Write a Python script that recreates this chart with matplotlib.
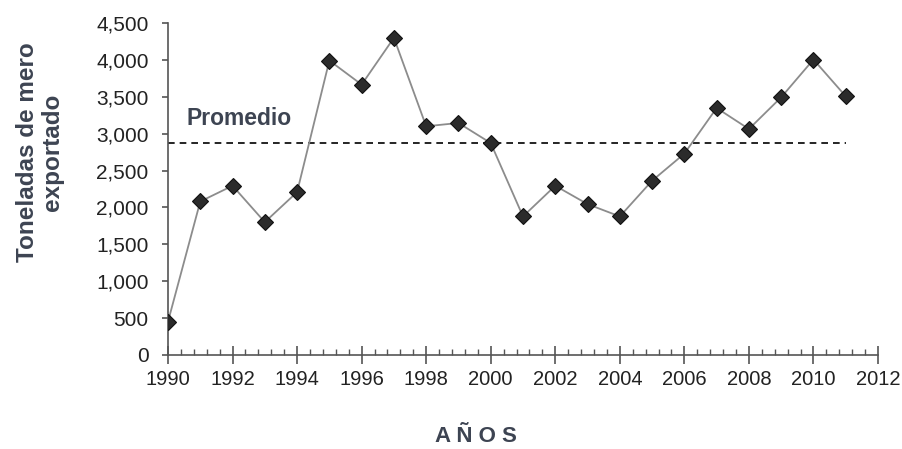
import matplotlib.pyplot as plt
from matplotlib.ticker import MultipleLocator, FuncFormatter

plt.rcParams["font.family"] = ["Liberation Sans", "DejaVu Sans"]

years = list(range(1990, 2012))
toneladas = [452, 2081, 2294, 1801, 2208, 3991, 3665, 4299, 3100, 3145, 2873,
             1878, 2294, 2045, 1878, 2362, 2729, 3348, 3063, 3493, 4005, 3507]
promedio = 2880
text_color = "#3d4452"

fig = plt.figure(figsize=(9.03, 4.49), dpi=100)
ax = fig.add_axes([168/903, 94/449, 710/903, 332/449])

ax.plot(years, toneladas, color="#8c8c8c", linewidth=1.3, zorder=2)
ax.plot(years, toneladas, linestyle="none", marker="D", markersize=8.5,
        markerfacecolor="#2b2b2b", markeredgecolor="#111111", markeredgewidth=0.8, zorder=3)
ax.hlines(promedio, years[0], years[-1], colors="black", linestyles=(0, (4, 3)), linewidth=1.2, zorder=1)
ax.text(1990.58, 3200, "Promedio", fontsize=16.5, fontweight="bold", color=text_color, va="center", ha="left")

ax.set_xlim(1990, 2012)
ax.set_ylim(0, 4500)
ax.xaxis.set_major_locator(MultipleLocator(2))
ax.xaxis.set_minor_locator(MultipleLocator(0.4))
ax.yaxis.set_major_locator(MultipleLocator(500))
ax.yaxis.set_major_formatter(FuncFormatter(lambda v, p: f"{int(v):,}"))

for side in ["top", "right"]:
    ax.spines[side].set_visible(False)
for side in ["left", "bottom"]:
    ax.spines[side].set_color("#555555")
    ax.spines[side].set_linewidth(1.2)

ax.tick_params(axis="x", which="major", direction="inout", length=13, width=1.2, color="#555555",
               labelsize=14.5, pad=4, labelcolor="#222222")
ax.tick_params(axis="x", which="minor", direction="in", length=4, width=1, color="#555555")
ax.tick_params(axis="y", which="major", direction="out", length=4, width=1.2, color="#555555",
               labelsize=15, pad=10, labelcolor="#222222")

fig.text(40/903, 1 - 152/449, "Toneladas de mero\nexportado", rotation=90, ha="center", va="center",
         multialignment="center", fontsize=17.5, fontweight="bold", color=text_color, linespacing=1.1)
fig.text(476/903, 1 - 436/449, "A Ñ O S", ha="center", va="center", fontsize=16,
         fontweight="bold", color=text_color)

fig.savefig("out.png", dpi=100)
